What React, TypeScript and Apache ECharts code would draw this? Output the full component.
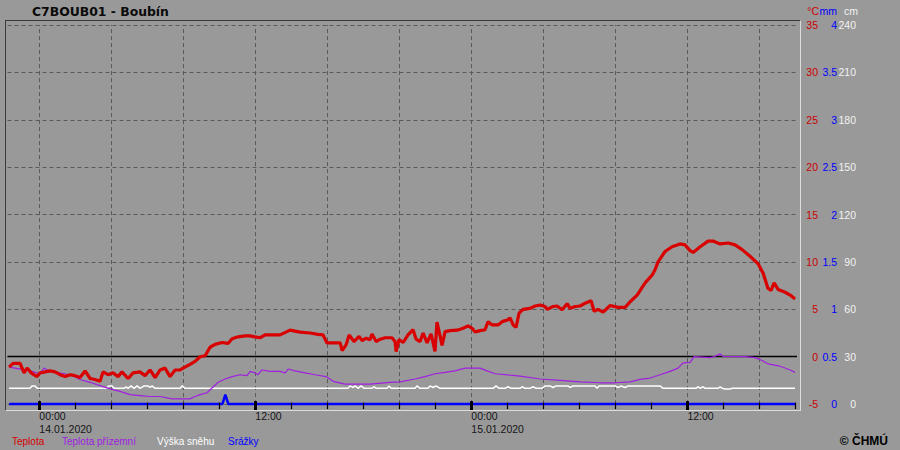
import React, { useEffect, useRef } from "react";
import * as echarts from "echarts";

// Time = hours from 14.01.2020 00:00
const X_MIN = -1.77;
const X_MAX = 42.09;

const tempHours = [
  -1.68, -1.46, -1.07, -0.85, -0.68, -0.46, -0.13, 0.04, 0.32, 0.59,
  0.87, 1.15, 1.43, 1.71, 1.98, 2.26, 2.54, 2.82, 3.09, 3.37,
  3.54, 3.82, 4.09, 4.37, 4.59, 4.93, 5.21, 5.59, 5.87, 6.15,
  6.43, 6.71, 6.98, 7.26, 7.54, 7.82, 7.98, 8.37, 8.65, 8.93,
  9.21, 9.48, 9.76, 10.15, 10.48, 10.71, 11.04, 11.43, 11.71, 11.98,
  12.26, 12.54, 13.09, 13.37, 13.93, 14.48, 15.04, 15.48, 15.76, 15.98,
  16.32, 16.71, 16.82, 17.04, 17.21, 17.48, 17.76, 17.93, 18.15, 18.37,
  18.48, 18.71, 18.93, 19.21, 19.59, 19.76, 19.82, 19.98, 20.21, 20.48,
  20.76, 20.93, 21.15, 21.32, 21.54, 21.76, 21.98, 22.09, 22.26, 22.37,
  22.54, 22.82, 23.21, 23.54, 23.82, 24.04, 24.21, 24.48, 24.76, 24.93,
  25.15, 25.48, 25.71, 26.04, 26.15, 26.32, 26.48, 26.65, 26.87, 27.26,
  27.54, 27.82, 28.09, 28.21, 28.54, 28.76, 29.04, 29.32, 29.48, 29.76,
  30.04, 30.32, 30.65, 30.82, 31.04, 31.32, 31.71, 32.15, 32.54, 32.82,
  33.21, 33.65, 34.04, 34.21, 34.37, 34.76, 35.15, 35.59, 35.87, 36.15,
  36.32, 36.71, 37.15, 37.43, 37.82, 38.26, 38.65, 39.04, 39.48, 39.93,
  40.21, 40.48, 40.65, 40.82, 41.04, 41.43, 41.71, 41.98,
];
const tempValues = [
  -1.1, -0.7, -0.7, -1.7, -1.2, -1.7, -2.1, -1.7, -1.6, -1.5,
  -1.6, -1.9, -2.1, -1.9, -2.0, -2.2, -1.5, -2.3, -2.4, -2.6,
  -1.6, -1.9, -1.7, -2.1, -1.6, -2.3, -1.7, -1.6, -2.0, -1.4,
  -2.2, -1.4, -1.2, -2.1, -1.4, -1.4, -1.2, -0.8, -0.5, 0.0,
  0.1, 1.0, 1.3, 1.5, 1.4, 1.9, 2.1, 2.2, 2.2, 2.1,
  2.0, 2.3, 2.3, 2.3, 2.8, 2.6, 2.5, 2.35, 2.3, 1.45,
  1.45, 1.45, 0.65, 1.25, 2.3, 1.6, 2.15, 1.7, 1.95, 1.8,
  2.4, 1.6, 1.85, 2.0, 2.0, 1.6, 0.55, 1.8, 1.5, 2.3,
  2.85, 1.85, 1.6, 2.5, 1.45, 2.4, 0.55, 3.65, 2.2, 1.2,
  2.65, 2.75, 2.8, 3.0, 3.25, 3.0, 2.6, 2.75, 2.85, 3.7,
  3.35, 3.35, 3.7, 3.9, 4.1, 3.35, 3.1, 4.6, 5.0, 5.1,
  5.35, 5.45, 5.3, 5.0, 5.3, 5.35, 4.95, 5.6, 5.1, 5.3,
  5.35, 5.65, 5.9, 4.8, 5.0, 4.7, 5.4, 5.2, 5.2, 5.8,
  6.5, 7.8, 8.6, 9.2, 10.0, 11.1, 11.6, 11.9, 11.8, 11.2,
  11.0, 11.6, 12.2, 12.2, 11.9, 12.0, 11.8, 11.3, 10.6, 9.8,
  8.8, 7.2, 7.0, 7.8, 7.1, 6.8, 6.5, 6.1,
];

const groundHours = [
  -1.68, -1.35, -0.52, 0.04, 0.26, 0.43, 0.87, 1.43, 1.98, 2.26,
  2.82, 3.37, 3.93, 4.48, 5.04, 5.59, 6.15, 6.71, 7.37, 7.82,
  8.37, 8.65, 8.93, 9.32, 9.59, 9.93, 10.32, 10.71, 11.15, 11.54,
  11.71, 11.98, 12.15, 12.37, 12.82, 13.37, 13.65, 13.82, 14.2, 14.76,
  15.32, 15.93, 16.32, 16.98, 18.37, 19.48, 20.04, 20.87, 21.43, 21.98,
  22.54, 23.09, 23.65, 24.48, 24.87, 25.32, 26.15, 26.71, 27.82, 28.93,
  30.04, 31.15, 31.98, 32.82, 33.37, 33.93, 34.48, 35.04, 35.48, 35.76,
  36.15, 36.37, 37.26, 37.54, 37.82, 37.98, 39.21, 39.76, 40.15, 40.48,
  41.15, 41.71, 41.98,
];
const groundValues = [
  -1.1, -1.2, -1.5, -1.8, -1.2, -1.4, -1.65, -1.8, -2.1, -2.4,
  -2.7, -3.05, -3.4, -3.65, -4.0, -4.1, -4.2, -4.2, -4.45, -4.45,
  -4.45, -4.2, -4.0, -3.8, -3.3, -2.7, -2.35, -2.1, -1.9, -2.0,
  -1.55, -1.7, -1.9, -1.4, -1.55, -1.55, -1.7, -1.3, -1.5, -1.7,
  -1.9, -2.1, -2.6, -2.9, -2.9, -2.7, -2.65, -2.35, -2.1, -1.8,
  -1.65, -1.5, -1.2, -1.2, -1.5, -1.8, -1.95, -2.05, -2.35, -2.5,
  -2.65, -2.75, -2.75, -2.65, -2.4, -2.25, -1.9, -1.55, -1.2, -0.65,
  -0.6, 0.0, -0.1, 0.05, 0.3, 0.03, 0.0, -0.1, -0.4, -0.75,
  -1.0, -1.4, -1.65,
];

const snowHours = [
  -1.68, -0.52, -0.41, -0.24, -0.13, 3.71, 3.87, 4.04, 4.15, 4.71,
  4.82, 4.93, 5.09, 5.26, 5.43, 5.59, 5.82, 6.04, 6.15, 6.26,
  6.43, 7.82, 7.93, 8.1, 17.15, 17.26, 17.43, 17.54, 17.71, 17.87,
  18.04, 18.48, 18.59, 18.71, 19.32, 19.43, 19.54, 20.87, 20.98, 21.15,
  21.59, 21.71, 21.87, 22.04, 22.26, 25.21, 25.37, 25.54, 25.87, 26.04,
  26.21, 26.71, 26.82, 26.98, 27.26, 27.43, 27.59, 27.93, 28.09, 28.37,
  28.54, 28.71, 29.37, 29.48, 29.65, 30.87, 30.98, 31.09, 31.98, 32.15,
  32.32, 32.54, 32.71, 34.48, 34.65, 36.48, 36.59, 36.71, 36.87, 36.98,
  37.71, 37.82, 37.93, 38.09, 38.37, 38.48, 41.98,
];
const snowValues = [
  10, 10, 11.5, 11.5, 10, 10, 11.5, 11.5, 10, 10,
  11, 10, 11.5, 10, 11.5, 10, 11.5, 11.5, 10.5, 11.5,
  10, 10, 11.5, 10, 10, 11.5, 10.5, 11.5, 10, 11.5,
  10, 10, 11, 10, 10, 11.5, 10, 10, 11.5, 10,
  10, 11.5, 10.5, 11.5, 10, 10, 11.5, 10, 10, 11,
  10, 10, 11, 10, 10, 11, 10, 10, 11.5, 11.5,
  10.5, 11.5, 11.5, 10.5, 11.5, 11.5, 10, 11.5, 11.5, 10.5,
  11.5, 10.5, 11.5, 11.5, 10, 10, 11, 10, 11, 10,
  10, 11, 10, 9.5, 9.5, 10, 10,
];

const precipHours = [-1.68, 10.17, 10.33, 10.5, 41.98];
const precipValues = [0, 0, 0.1, 0, 0];

// time-axis ticks: minor every 2 h up to 42 h, labelled/major every 12 h up to 36 h
const minorTickMax = 42;
const minorTickStep = 2;
const majorTickMax = 36;
const majorTickStep = 12;
const xLabelHours = [0, 12, 24, 36];
const xLabelTexts = ["00:00\n14.01.2020", "12:00", "00:00\n15.01.2020", "12:00"];
const xGridHours = [0, 4, 8, 12, 16, 20, 24, 28, 32, 36, 40];

const seriesNames = ["Teplota", "Teplota přízemní", "Výška sněhu", "Srážky"];
const seriesColors = ["#d80000", "#a020e0", "#ffffff", "#0000ff"];
const legendX = [12, 62, 157, 228];

const FONT = "'Liberation Sans', Arial, sans-serif";

const zip = (h: number[], v: number[]) => h.map((x, i) => [x, v[i]]);

// plot geometry
const PLOT_LEFT = 7.5;
const PLOT_TOP = 25;
const PLOT_WIDTH = 789.5;
const PLOT_HEIGHT = 379.1;
const PX_PER_HOUR = PLOT_WIDTH / (X_MAX - X_MIN);
const ZERO_X = PLOT_LEFT + (0 - X_MIN) * PX_PER_HOUR;

export default function App() {
  const ref = useRef<HTMLDivElement>(null);
  useEffect(() => {
    if (!ref.current) return;
    const chart = echarts.init(ref.current, undefined, { renderer: "svg" });
    const yBase = {
      type: "value",
      position: "right",
      axisLine: { show: false },
      axisTick: { show: false },
    };
    const hiddenY = (gridIndex: number) => ({
      type: "value",
      gridIndex,
      show: false,
      min: 0,
      max: 1,
      splitLine: { show: false },
    });
    chart.setOption({
      animation: false,
      backgroundColor: "#999999",
      grid: [
        { left: PLOT_LEFT, top: PLOT_TOP, width: PLOT_WIDTH, height: PLOT_HEIGHT, containLabel: false },
        { left: ZERO_X, top: PLOT_TOP, width: minorTickMax * PX_PER_HOUR, height: PLOT_HEIGHT, containLabel: false },
        { left: ZERO_X, top: PLOT_TOP, width: majorTickMax * PX_PER_HOUR, height: PLOT_HEIGHT, containLabel: false },
      ],
      xAxis: [
        {
          type: "value",
          gridIndex: 0,
          min: X_MIN,
          max: X_MAX,
          show: false,
          splitLine: { show: false },
        },
        {
          type: "value",
          gridIndex: 1,
          position: "bottom",
          min: 0,
          max: minorTickMax,
          interval: minorTickStep,
          offset: -1.5,
          z: 10,
          axisLine: { show: false },
          splitLine: { show: false },
          axisTick: { show: true, inside: false, interval: 0, length: 6.5, lineStyle: { color: "#000000", width: 1.2 } },
          axisLabel: { show: true, interval: 0, hideOverlap: false, formatter: () => "", fontSize: 1 },
        },
        {
          type: "value",
          gridIndex: 2,
          position: "bottom",
          min: 0,
          max: majorTickMax,
          interval: majorTickStep,
          offset: -3,
          z: 11,
          axisLine: { show: false },
          splitLine: { show: false },
          axisTick: { show: true, inside: false, length: 9, lineStyle: { color: "#000", width: 3 } },
          axisLabel: {
            show: true,
            formatter: (v: number) => {
              const i = xLabelHours.indexOf(v);
              return i >= 0 ? xLabelTexts[i] : "";
            },
            align: "left",
            verticalAlign: "top",
            margin: 9,
            color: "#151515",
            fontSize: 10.5,
            lineHeight: 12.5,
            fontFamily: FONT,
          },
        },
      ],
      yAxis: [
        {
          ...yBase,
          gridIndex: 0,
          min: -5,
          max: 35,
          interval: 5,
          splitLine: { show: true, lineStyle: { color: "#5a5a5a", type: [4, 3], width: 1 } },
          axisLabel: { color: "#cc0000", margin: 21, align: "right", fontSize: 10.5, fontFamily: FONT },
        },
        {
          ...yBase,
          gridIndex: 0,
          min: 0,
          max: 4,
          interval: 0.5,
          splitLine: { show: false },
          axisLabel: { color: "#0000ff", margin: 40, align: "right", fontSize: 10.5, fontFamily: FONT },
        },
        {
          ...yBase,
          gridIndex: 0,
          min: 0,
          max: 240,
          interval: 30,
          splitLine: { show: false },
          axisLabel: { color: "#f2f2f2", margin: 59, align: "right", fontSize: 10.5, fontFamily: FONT },
        },
        hiddenY(1),
        hiddenY(2),
      ],
      series: [
        {
          name: seriesNames[2],
          type: "line",
          xAxisIndex: 0,
          yAxisIndex: 2,
          data: zip(snowHours, snowValues),
          showSymbol: false,
          lineStyle: { color: seriesColors[2], width: 1.5 },
          z: 2,
        },
        {
          name: seriesNames[1],
          type: "line",
          xAxisIndex: 0,
          yAxisIndex: 0,
          data: zip(groundHours, groundValues),
          showSymbol: false,
          lineStyle: { color: seriesColors[1], width: 1.2 },
          z: 3,
          markLine: {
            silent: true,
            symbol: "none",
            z: 1,
            label: { show: false },
            animation: false,
            data: [
              ...xGridHours.map((h) => ({ xAxis: h, lineStyle: { color: "#5a5a5a", type: [4, 3], width: 1 } })),
              { yAxis: 0, lineStyle: { color: "#000000", type: "solid", width: 1.3 } },
            ],
          },
        },
        {
          name: seriesNames[0],
          type: "line",
          xAxisIndex: 0,
          yAxisIndex: 0,
          data: zip(tempHours, tempValues),
          showSymbol: false,
          lineStyle: { color: seriesColors[0], width: 3.2 },
          z: 4,
        },
        {
          name: seriesNames[3],
          type: "line",
          xAxisIndex: 0,
          yAxisIndex: 1,
          data: zip(precipHours, precipValues),
          showSymbol: false,
          clip: false,
          lineStyle: { color: seriesColors[3], width: 2.5 },
          z: 5,
        },
      ],
      graphic: [
        { type: "line", shape: { x1: 5, y1: 20.5, x2: 800.5, y2: 20.5 }, style: { stroke: "#3a3a3a", lineWidth: 1 }, z: 20 },
        { type: "line", shape: { x1: 5.5, y1: 20.5, x2: 5.5, y2: 410.5 }, style: { stroke: "#3a3a3a", lineWidth: 1 }, z: 20 },
        { type: "line", shape: { x1: 800.5, y1: 20.5, x2: 800.5, y2: 411 }, style: { stroke: "#dcdcdc", lineWidth: 1 }, z: 20 },
        { type: "line", shape: { x1: 5.5, y1: 410.5, x2: 800.5, y2: 410.5 }, style: { stroke: "#dcdcdc", lineWidth: 1 }, z: 20 },
        {
          type: "text",
          x: 32,
          y: 11.2,
          style: { text: "C7BOUB01 - Boubín", fill: "#0a0a0a", font: "bold 12.4px 'DejaVu Sans', sans-serif", textVerticalAlign: "middle" },
        },
        { type: "text", x: 819, y: 11, style: { text: "°C", fill: "#cc0000", font: `10.5px ${FONT}`, textAlign: "right", textVerticalAlign: "middle" } },
        { type: "text", x: 837, y: 11, style: { text: "mm", fill: "#0000ff", font: `10.5px ${FONT}`, textAlign: "right", textVerticalAlign: "middle" } },
        { type: "text", x: 844, y: 11, style: { text: "cm", fill: "#f2f2f2", font: `10.5px ${FONT}`, textAlign: "left", textVerticalAlign: "middle" } },
        ...seriesNames.map((n, i) => ({
          type: "text",
          x: legendX[i],
          y: 441,
          style: { text: n, fill: seriesColors[i], font: `10px ${FONT}`, textVerticalAlign: "middle" },
        })),
        {
          type: "text",
          x: 888,
          y: 441,
          style: { text: "© ČHMÚ", fill: "#000000", font: `bold 12px ${FONT}`, textAlign: "right", textVerticalAlign: "middle" },
        },
      ],
    });
    return () => chart.dispose();
  }, []);
  return (
    <div
      ref={ref}
      style={{ position: "fixed", left: 0, top: 0, width: 900, height: 450, background: "#999999" }}
    />
  );
}
